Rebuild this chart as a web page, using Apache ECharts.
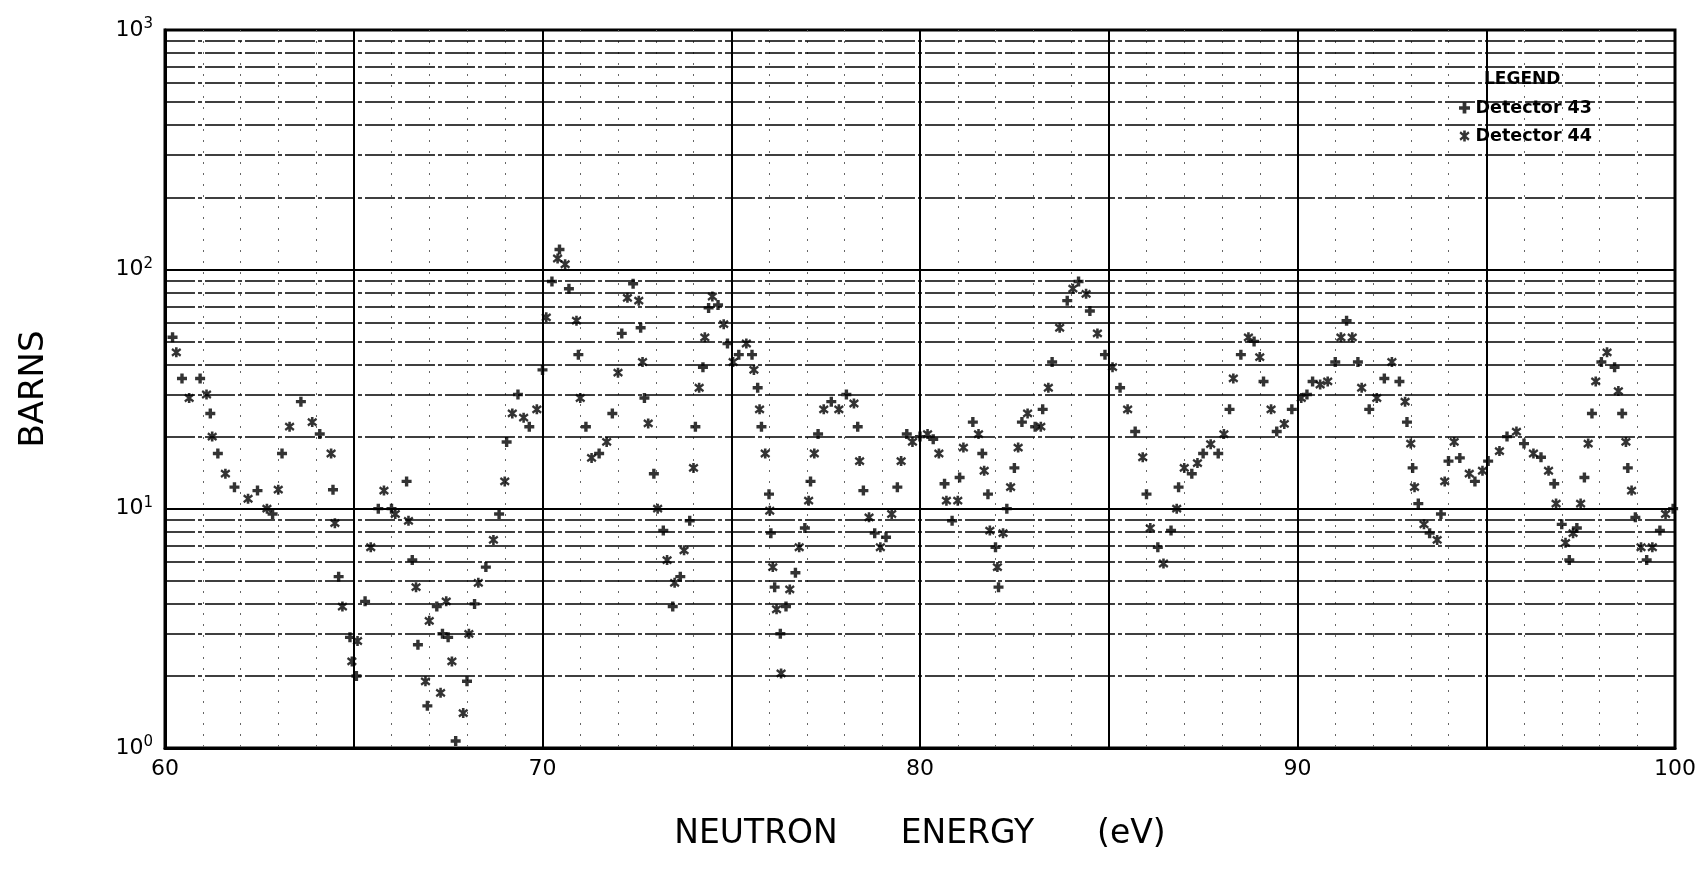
<!DOCTYPE html>
<html><head><meta charset="utf-8">
<script src="https://cdn.jsdelivr.net/npm/echarts@6/dist/echarts.min.js"></script>
<style>html,body{margin:0;padding:0;background:#fff}#c{width:1705px;height:886px}</style>
</head><body><div id="c"></div>
<script>
// Detector 43 readings: [neutron energy (eV), cross section (barns)]
const det43 = [[60.2,52],[60.45,35],[60.93,35],[61.2,25],[61.4,17],[61.84,12.3],[62.45,11.9],[62.85,9.5],[63.1,17],[63.6,28],[64.1,20.5],[64.45,12],[64.6,5.2],[64.9,2.9],[65.07,2.0],[65.3,4.1],[65.65,10],[66.0,10],[66.4,13],[66.55,6.1],[66.7,2.7],[66.95,1.5],[67.2,3.9],[67.35,3.0],[67.5,2.9],[67.7,1.07],[68.0,1.9],[68.2,4.0],[68.5,5.7],[68.85,9.5],[69.05,19],[69.35,30],[69.65,22],[70.0,38],[70.25,89],[70.45,121],[70.7,83],[70.95,44],[71.15,22],[71.5,17],[71.85,25],[72.1,54],[72.4,87],[72.6,57],[72.7,29],[72.95,14],[73.2,8.1],[73.45,3.9],[73.65,5.2],[73.9,8.9],[74.05,22],[74.25,39],[74.4,69],[74.65,71],[74.9,49],[75.2,44],[75.55,44],[75.7,32],[75.8,22],[76.0,11.5],[76.05,7.9],[76.15,4.7],[76.3,3.0],[76.45,3.9],[76.7,5.4],[76.95,8.3],[77.1,13],[77.3,20.5],[77.65,28],[78.05,30],[78.35,22],[78.5,11.9],[78.8,7.9],[79.1,7.6],[79.4,12.3],[79.65,20.5],[80.0,20],[80.35,19.5],[80.65,12.7],[80.85,8.9],[81.05,13.5],[81.4,23],[81.65,17],[81.8,11.5],[82.0,6.9],[82.08,4.7],[82.3,10],[82.5,14.8],[82.7,23],[83.05,22],[83.25,26],[83.5,41],[83.9,74],[84.2,89],[84.5,67],[84.9,44],[85.3,32],[85.7,21],[86.0,11.5],[86.3,6.9],[86.65,8.1],[86.85,12.3],[87.2,14],[87.5,17],[87.9,17],[88.2,26],[88.5,44],[88.85,50],[89.1,34],[89.45,21],[89.85,26],[90.25,30],[90.4,34],[91.0,41],[91.3,61],[91.6,41],[91.9,26],[92.3,35],[92.7,34],[92.9,23],[93.05,14.8],[93.2,10.5],[93.5,7.9],[93.8,9.5],[94.0,15.8],[94.3,16.3],[94.7,13],[95.05,15.8],[95.55,20],[96.0,18.7],[96.45,16.4],[96.8,12.7],[97.0,8.6],[97.2,6.1],[97.4,8.3],[97.6,13.5],[97.8,25],[98.05,41],[98.4,39],[98.6,25],[98.75,14.8],[98.95,9.2],[99.25,6.1],[99.6,8.1],[99.95,10]];

// Detector 44 readings
const det44 = [[60.3,45],[60.64,29],[61.1,30],[61.25,20],[61.6,14],[62.2,11],[62.7,10],[63.0,12],[63.3,22],[63.9,23],[64.4,17],[64.5,8.7],[64.7,3.9],[64.95,2.3],[65.1,2.8],[65.45,6.9],[65.8,11.9],[66.1,9.5],[66.45,8.9],[66.65,4.7],[66.9,1.9],[67.0,3.4],[67.3,1.7],[67.45,4.1],[67.6,2.3],[67.9,1.4],[68.05,3.0],[68.3,4.9],[68.7,7.4],[69.0,13],[69.2,25],[69.5,24],[69.85,26],[70.1,63],[70.4,111],[70.6,105],[70.9,61],[71.0,29],[71.3,16.3],[71.7,19],[72.0,37],[72.25,76],[72.55,74],[72.65,41],[72.8,22.7],[73.05,10],[73.3,6.1],[73.5,4.9],[73.75,6.7],[74.0,14.8],[74.15,32],[74.3,52],[74.5,77],[74.8,59],[75.05,41],[75.4,49],[75.6,38],[75.75,26],[75.9,17],[76.02,9.8],[76.1,5.7],[76.2,3.8],[76.32,2.05],[76.55,4.6],[76.8,6.9],[77.05,10.8],[77.2,17],[77.45,26],[77.85,26],[78.25,27.5],[78.4,15.8],[78.65,9.2],[78.95,6.9],[79.25,9.5],[79.5,15.8],[79.8,19],[80.2,20.5],[80.5,17],[80.7,10.8],[81.0,10.8],[81.15,18],[81.55,20.5],[81.7,14.4],[81.85,8.1],[82.05,5.7],[82.2,7.9],[82.4,12.3],[82.6,18],[82.85,25],[83.2,22],[83.4,32],[83.7,57],[84.05,83],[84.4,79],[84.7,54],[85.1,39],[85.5,26],[85.9,16.4],[86.1,8.3],[86.45,5.9],[86.8,10],[87.0,14.8],[87.35,15.5],[87.7,18.6],[88.05,20.5],[88.3,35],[88.7,52],[89.0,43],[89.3,26],[89.65,22.6],[90.1,29],[90.6,33],[90.8,34],[91.15,52],[91.45,52],[91.7,32],[92.1,29],[92.5,41],[92.85,28],[93.0,18.7],[93.1,12.3],[93.35,8.6],[93.7,7.4],[93.9,13],[94.15,19],[94.55,14],[94.9,14.4],[95.35,17.4],[95.8,21],[96.25,17],[96.65,14.4],[96.85,10.5],[97.1,7.2],[97.3,7.9],[97.5,10.5],[97.7,18.7],[97.9,34],[98.2,45],[98.5,31],[98.7,19],[98.85,11.9],[99.1,6.9],[99.4,6.9],[99.75,9.5]];

// log-paper minor ruling values
const minorGrid = [2,3,4,5,6,7,8,9,20,30,40,50,60,70,80,90,200,300,400,500,600,700,800,900];
const seriesNames = ['Detector 43','Detector 44'];
const xTitle = 'NEUTRON      ENERGY      (eV)';
const yTitle = 'BARNS';
const legendTitle = 'LEGEND';

const plusPath = 'path://M3.3,0H6.7V3.3H10V6.7H6.7V10H3.3V6.7H0V3.3H3.3Z';
const starPath = 'path://M3.8,0H6.2V10H3.8Z M0.4,2.6L1.6,0.6L9.6,7.4L8.4,9.4Z M8.4,0.6L9.6,2.6L1.6,9.4L0.4,7.4Z';

const chart = echarts.init(document.getElementById('c'));
const option = {
  animation: false,
  backgroundColor: '#fff',
  title: {
    text: legendTitle, left: 1484, top: 71, padding: 0,
    textStyle: {fontFamily: 'DejaVu Sans', fontWeight: 'bold', fontSize: 17, color: '#000'}
  },
  legend: {
    orient: 'vertical', left: 1459, top: 99, padding: 0,
    itemWidth: 12, itemHeight: 11, itemGap: 10,
    textStyle: {fontFamily: 'DejaVu Sans', fontWeight: 'bold', fontSize: 17.5, color: '#000'},
    data: [{name: seriesNames[0], icon: plusPath}, {name: seriesNames[1], icon: starPath}]
  },
  grid: {left: 165, right: 30, top: 30, bottom: 138, show: true, borderColor: '#000', borderWidth: 3},
  xAxis: {
    type: 'value', min: 60, max: 100, interval: 5,
    axisLine: {show: true, lineStyle: {color: '#000', width: 3}},
    axisTick: {show: false},
    splitLine: {show: true, lineStyle: {color: '#000', width: 2}},
    minorTick: {show: false, splitNumber: 5},
    minorSplitLine: {show: true, lineStyle: {color: '#666', width: 1, type: [2, 9]}},
    axisLabel: {
      formatter: v => (v % 10 === 0 ? String(v) : ''),
      fontFamily: 'DejaVu Sans', fontSize: 22, color: '#000', margin: 10
    },
    name: xTitle, nameLocation: 'middle', nameGap: 70,
    nameTextStyle: {fontFamily: 'DejaVu Sans', fontSize: 33, color: '#000'}
  },
  yAxis: {
    type: 'log', logBase: 10, min: 1, max: 1000,
    axisLine: {show: true, lineStyle: {color: '#000', width: 3}},
    axisTick: {show: false},
    splitLine: {show: true, lineStyle: {color: '#000', width: 2}},
    axisLabel: {
      margin: 12,
      formatter: v => '{b|10}{s|' + Math.round(Math.log10(v)) + '}',
      rich: {
        b: {fontFamily: 'DejaVu Sans', fontSize: 22, color: '#000', lineHeight: 26},
        s: {fontFamily: 'DejaVu Sans', fontSize: 15, color: '#000', verticalAlign: 'top', lineHeight: 14}
      }
    },
    name: yTitle, nameLocation: 'middle', nameGap: 114, nameRotate: 90,
    nameTextStyle: {fontFamily: 'DejaVu Sans', fontSize: 34, color: '#000'}
  },
  series: [
    {
      type: 'line', data: [], silent: true, z: 1,
      markLine: {
        silent: true, symbol: ['none', 'none'], label: {show: false},
        lineStyle: {color: '#000', width: 1.5, type: [30, 3, 4, 3]},
        data: minorGrid.map(v => ({yAxis: v}))
      }
    },
    {
      name: seriesNames[0], type: 'scatter', data: det43, z: 5,
      symbol: plusPath, symbolSize: 10, itemStyle: {color: '#000'}
    },
    {
      name: seriesNames[1], type: 'scatter', data: det44, z: 5,
      symbol: starPath, symbolSize: 10, itemStyle: {color: '#000'}
    }
  ]
};
chart.setOption(option);
</script>
</body></html>
